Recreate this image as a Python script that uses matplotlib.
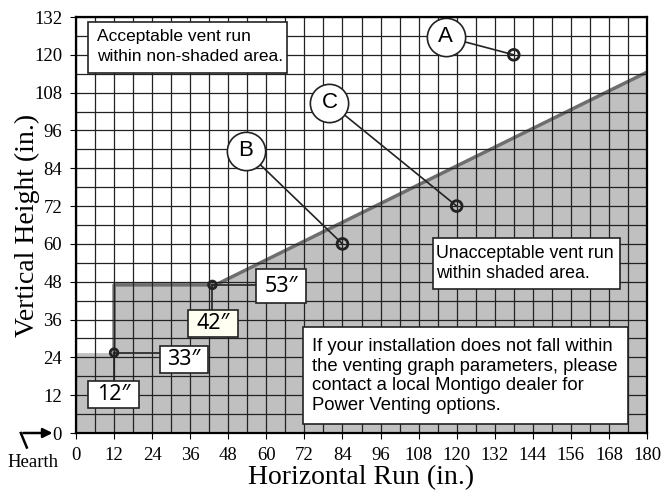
import matplotlib.pyplot as plt
from matplotlib.patches import Rectangle
import numpy as np

# shaded boundary (horizontal run, vertical height)
edge_x = [0, 12, 12, 44, 180]
edge_y = [25.5, 25.5, 47, 47, 114.5]

# callout points A, B, C
pt_names = ['A', 'B', 'C']
pt_x = [138, 84, 120]
pt_y = [120, 60, 72]
bubble_x = [116.6, 53.6, 79.9]
bubble_y = [125.7, 89.5, 104.8]

# corner points with their dimension labels
corner_x = [12, 43]
corner_y = [25.5, 47]
corner_down = ['12\u2033', '42\u2033']
corner_right = ['33\u2033', '53\u2033']

xticks = list(range(0, 181, 12))
yticks = list(range(0, 133, 12))

serif = 'Liberation Serif'
sans = ['Liberation Sans', 'DejaVu Sans']

fig = plt.figure(figsize=(6.64, 4.93), dpi=100)
ax = fig.add_axes([76 / 664, 60 / 493, 571 / 664, 416 / 493])
ax.set_xlim(0, 180)
ax.set_ylim(0, 132)

ax.fill_between(edge_x, 0, edge_y, color='#c0c0c0', lw=0, zorder=0)
ax.plot(edge_x[1:], edge_y[1:], color='#6e6e6e', lw=2.5, zorder=1)

ax.set_xticks(xticks)
ax.set_yticks(yticks)
ax.set_xticks(np.arange(0, 181, 6), minor=True)
ax.set_yticks(np.arange(0, 133, 6), minor=True)
ax.grid(True, which='both', color='#222222', lw=0.9, zorder=2)
ax.set_axisbelow(False)
ax.tick_params(which='both', length=0, pad=6)
ax.tick_params(which='major', length=4, direction='out', width=0.8)
for lab in ax.get_xticklabels() + ax.get_yticklabels():
    lab.set_fontfamily(serif)
    lab.set_fontsize(13.5)
for s in ax.spines.values():
    s.set_linewidth(1.6)
    s.set_zorder(8)

ax.set_xlabel('Horizontal Run (in.)', fontfamily=serif, fontsize=20, labelpad=1)
ax.set_ylabel('Vertical Height (in.)', fontfamily=serif, fontsize=20, labelpad=-4)


def box(x0, y0, x1, y1, fc='white'):
    ax.add_patch(Rectangle((x0, y0), x1 - x0, y1 - y0, facecolor=fc,
                           edgecolor='#222222', lw=1.2, zorder=6))


# text boxes
box(3.8, 114.2, 66.5, 130.4)
ax.text(6.6, 122.6, 'Acceptable vent run\nwithin non-shaded area.', family=sans,
        fontsize=12.5, linespacing=1.45, va='center', ha='left', zorder=7)
box(112.5, 45.7, 171.5, 61.9)
ax.text(113.6, 53.8, 'Unacceptable vent run\nwithin shaded area.', family=sans,
        fontsize=12.8, linespacing=1.25, va='center', ha='left', zorder=7)
box(71.6, 2.9, 174.0, 33.6)
ax.text(74.4, 18.1, 'If your installation does not fall within\nthe venting graph parameters, please\n'
        'contact a local Montigo dealer for\nPower Venting options.', family=sans,
        fontsize=13.3, linespacing=1.22, va='center', ha='left', zorder=7)

# callouts
for name, px, py, bx, by in zip(pt_names, pt_x, pt_y, bubble_x, bubble_y):
    ax.plot([bx, px], [by, py], color='#222222', lw=1.2, zorder=5)
    ax.scatter([px], [py], s=60, facecolor='none', edgecolor='#222222', lw=2, zorder=6)
    ax.scatter([bx], [by], s=760, facecolor='white', edgecolor='#222222', lw=1.2, zorder=6)
    ax.text(bx, by, name, family=sans, fontsize=16, ha='center', va='center', zorder=7)

# dimension labels at the corners
down_boxes = [(3.8, 7.9, 19.9, 16.5), (35.3, 30.5, 51.1, 39.0)]
right_boxes = [(26.5, 19.0, 41.6, 27.6), (56.7, 41.2, 72.5, 52.0)]
down_fc = ['white', '#fffff2']
for i in range(2):
    cx, cy = corner_x[i], corner_y[i]
    d = down_boxes[i]
    r = right_boxes[i]
    ax.plot([cx, cx], [cy, d[3]], color='#222222', lw=1.2, zorder=5)
    ax.plot([cx, r[0]], [cy, cy], color='#222222', lw=1.2, zorder=5)
    ax.scatter([cx], [cy], s=30, facecolor='none', edgecolor='#222222', lw=2, zorder=7)
    box(d[0], d[1], d[2], d[3], fc=down_fc[i])
    ax.text((d[0] + d[2]) / 2, (d[1] + d[3]) / 2, corner_down[i], family=['Noto Sans'],
            fontsize=15.5, ha='center', va='center', zorder=7)
    box(r[0], r[1], r[2], r[3])
    ax.text((r[0] + r[2]) / 2, (r[1] + r[3]) / 2, corner_right[i], family=['Noto Sans'],
            fontsize=15.5, ha='center', va='center', zorder=7)

# hearth arrow
ax.annotate('', xy=(-6.5, 0), xytext=(-17.5, 0), annotation_clip=False,
            arrowprops=dict(arrowstyle='-|>', color='black', lw=1.8, mutation_scale=14))
ax.plot([-17.4, -15.5], [0, -4.6], color='black', lw=1.8, clip_on=False)
ax.text(-13.5, -9.5, 'Hearth', family=serif, fontsize=13.5, ha='center', va='center')

fig.savefig('out.png', dpi=100)
